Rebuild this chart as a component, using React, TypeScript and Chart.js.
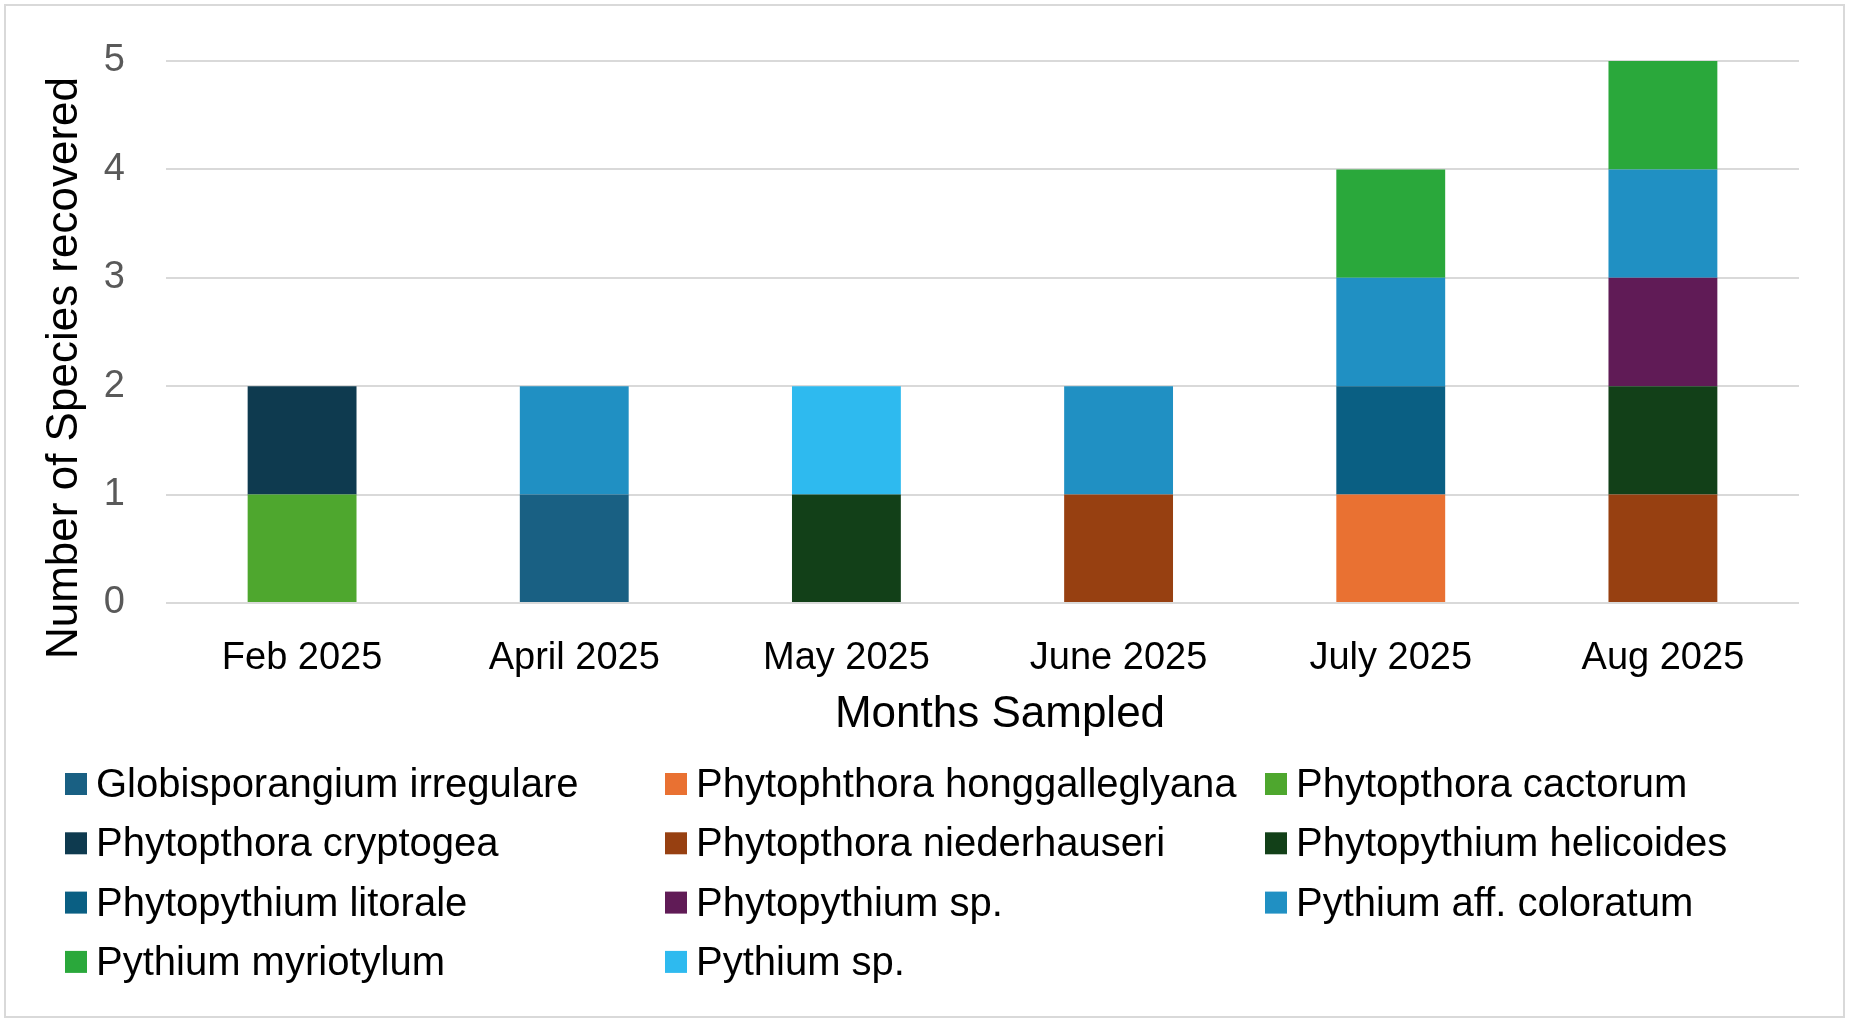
import React, { useEffect, useRef } from "react";
import { Chart, registerables } from "chart.js";

Chart.register(...registerables);

// ---- data ----
const months = ["Feb 2025", "April 2025", "May 2025", "June 2025", "July 2025", "Aug 2025"];

const speciesNames = [
  "Globisporangium irregulare",
  "Phytophthora honggalleglyana",
  "Phytopthora cactorum",
  "Phytopthora cryptogea",
  "Phytopthora niederhauseri",
  "Phytopythium helicoides",
  "Phytopythium litorale",
  "Phytopythium sp.",
  "Pythium aff. coloratum",
  "Pythium myriotylum",
  "Pythium sp.",
];

const speciesColors = [
  "#196083",
  "#E97132",
  "#4EA72E",
  "#0E3A4F",
  "#974011",
  "#124018",
  "#0A5F83",
  "#601B56",
  "#2090C3",
  "#2AA83B",
  "#2EBAEF",
];

const globisporangiumIrregulare = [0, 1, 0, 0, 0, 0];
const phytophthoraHonggalleglyana = [0, 0, 0, 0, 1, 0];
const phytopthoraCactorum = [1, 0, 0, 0, 0, 0];
const phytopthoraCryptogea = [1, 0, 0, 0, 0, 0];
const phytopthoraNiederhauseri = [0, 0, 0, 1, 0, 1];
const phytopythiumHelicoides = [0, 0, 1, 0, 0, 1];
const phytopythiumLitorale = [0, 0, 0, 0, 1, 0];
const phytopythiumSp = [0, 0, 0, 0, 0, 1];
const pythiumAffColoratum = [0, 1, 0, 1, 1, 1];
const pythiumMyriotylum = [0, 0, 0, 0, 1, 1];
const pythiumSp = [0, 0, 1, 0, 0, 0];

const speciesValues = [
  globisporangiumIrregulare,
  phytophthoraHonggalleglyana,
  phytopthoraCactorum,
  phytopthoraCryptogea,
  phytopthoraNiederhauseri,
  phytopythiumHelicoides,
  phytopythiumLitorale,
  phytopythiumSp,
  pythiumAffColoratum,
  pythiumMyriotylum,
  pythiumSp,
];

const yMin = 0;
const yMax = 5;
const yStep = 1;

const xAxisTitle = "Months Sampled";
const yAxisTitle = "Number of Species recovered";

const W = 1851;
const H = 1026;
const FONT = "'Liberation Sans', Arial, sans-serif";

const decorPlugin = {
  id: "decor",
  beforeDraw(chart: any) {
    const ctx = chart.ctx;
    ctx.save();
    ctx.fillStyle = "#ffffff";
    ctx.fillRect(0, 0, chart.width, chart.height);
    ctx.strokeStyle = "#d9d9d9";
    ctx.lineWidth = 2;
    ctx.strokeRect(5, 5, 1839, 1012);
    ctx.restore();
  },
  afterDraw(chart: any) {
    const ctx = chart.ctx;
    ctx.save();
    // axis titles
    ctx.fillStyle = "#000000";
    ctx.font = `44px ${FONT}`;
    ctx.textAlign = "center";
    ctx.textBaseline = "middle";
    ctx.fillText(xAxisTitle, 1000, 715);
    ctx.save();
    ctx.translate(65, 368);
    ctx.rotate(-Math.PI / 2);
    ctx.fillText(yAxisTitle, 0, 0);
    ctx.restore();

    // legend grid (3 columns)
    ctx.font = `40px ${FONT}`;
    ctx.textAlign = "left";
    const ds = chart.data.datasets;
    for (let i = 0; i < ds.length; i++) {
      const col = i % 3;
      const row = Math.floor(i / 3);
      const x = 65 + col * 600;
      const y = 784 + row * 59.3;
      ctx.fillStyle = ds[i].backgroundColor;
      ctx.fillRect(x, y - 11, 22, 22);
      ctx.fillStyle = "#000000";
      ctx.fillText(ds[i].label, x + 31, y + 2);
    }
    ctx.restore();
  },
};

export default function App() {
  const canvasRef = useRef<HTMLCanvasElement | null>(null);

  useEffect(() => {
    if (!canvasRef.current) return;
    const chart = new Chart(canvasRef.current, {
      type: "bar",
      data: {
        labels: months,
        datasets: speciesNames.map((name, i) => ({
          label: name,
          data: speciesValues[i],
          backgroundColor: speciesColors[i],
          borderWidth: 0,
          categoryPercentage: 1,
          barPercentage: 0.4,
        })),
      },
      options: {
        animation: false,
        responsive: true,
        maintainAspectRatio: false,
        devicePixelRatio: 1,
        layout: { padding: { left: 0, top: 61, right: 52, bottom: 0 } },
        plugins: {
          legend: { display: false },
          tooltip: { enabled: false },
          title: { display: false },
        },
        scales: {
          x: {
            stacked: true,
            grid: { display: false, drawTicks: false },
            border: { display: false },
            ticks: {
              color: "#000000",
              font: { family: FONT, size: 38 },
              padding: 33,
              maxRotation: 0,
            },
            afterFit: (scale: any) => {
              scale.height = H - 603;
              scale.paddingLeft = 0;
              scale.paddingRight = 0;
            },
          },
          y: {
            stacked: true,
            min: yMin,
            max: yMax,
            grid: { color: "#d9d9d9", lineWidth: 2, drawTicks: false },
            border: { display: false },
            ticks: {
              stepSize: yStep,
              color: "#595959",
              font: { family: FONT, size: 38 },
              padding: 41,
            },
            afterFit: (scale: any) => {
              scale.width = 166;
              scale.paddingTop = 0;
              scale.paddingBottom = 0;
            },
          },
        },
      },
      plugins: [decorPlugin],
    });
    return () => chart.destroy();
  }, []);

  return (
    <div style={{ position: "fixed", left: 0, top: 0, width: W, height: H, background: "#fff" }}>
      <canvas ref={canvasRef} />
    </div>
  );
}
